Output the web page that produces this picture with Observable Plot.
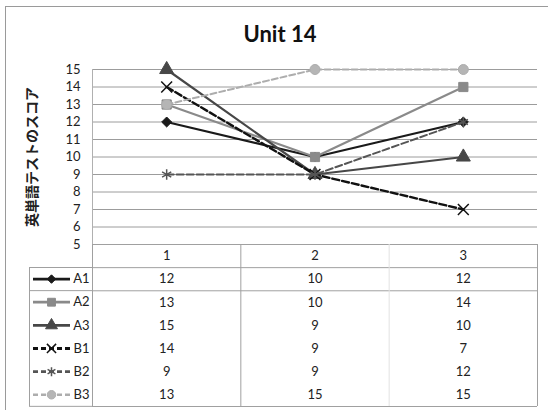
<!DOCTYPE html>
<html><head><meta charset="utf-8">
<script src="https://cdn.jsdelivr.net/npm/d3@7"></script>
<script src="https://cdn.jsdelivr.net/npm/@observablehq/plot@0.6"></script>
<style>
html,body{margin:0;padding:0;background:#fff;}
#wrap{position:relative;width:548px;height:410px;overflow:hidden;font-family:Lato,"Noto Sans",sans-serif;}
#border{position:absolute;left:5px;top:6px;width:600px;height:500px;border-left:1px solid #9a9a9a;border-top:1px solid #9a9a9a;}
#title{position:absolute;left:0;width:560px;top:20px;text-align:center;font-weight:bold;font-size:22px;color:#111;}
#wrap svg{position:absolute;background:none;overflow:visible;}
</style></head>
<body><div id="wrap"><div id="border"></div><div id="title">Unit 14</div></div>
<script>
// ---- data ----
const categories = [1, 2, 3];
const seriesNames = ["A1", "A2", "A3", "B1", "B2", "B3"];
const A1 = [12, 10, 12];
const A2 = [13, 10, 14];
const A3 = [15, 9, 10];
const B1 = [14, 9, 7];
const B2 = [9, 9, 12];
const B3 = [13, 15, 15];
const seriesValues = [A1, A2, A3, B1, B2, B3];
const yTicks = [5, 6, 7, 8, 9, 10, 11, 12, 13, 14, 15];
const titleText = "Unit 14";
const yLabel = "英単語テストのスコア";

// ---- styles ----
const styles = [
  {stroke: "#1a1a1a", width: 2.2, dash: null, symbol: "diamond2", fill: "#1a1a1a", r: 4.5},
  {stroke: "#8a8a8a", width: 2.2, dash: null, symbol: "square", fill: "#8a8a8a", r: 5.2},
  {stroke: "#474747", width: 2.2, dash: null, symbol: "triangle", fill: "#474747", r: 5.2},
  {stroke: "#111111", width: 2.4, dash: "7,3", symbol: "times", fill: "none", r: 5},
  {stroke: "#555555", width: 2.0, dash: "7,3", symbol: "asterisk", fill: "none", r: 5},
  {stroke: "#adadad", width: 2.0, dash: "6,3", symbol: "circle", fill: "#b5b5b5", r: 5}
];

const data = seriesNames.flatMap((s, i) => categories.map((c, j) => ({series: s, cat: c, value: seriesValues[i][j]})));

const W = 548, ML = 92, MR = 11;
const font = 'Lato, "Noto Sans", sans-serif';
const wrap = document.getElementById("wrap");
document.getElementById("title").textContent = titleText;

// ---- chart ----
const marks = [
  Plot.gridY(yTicks, {stroke: "#9c9c9c", strokeOpacity: 1}),
  Plot.ruleX([0.5], {stroke: "#b0b0b0"}),
  Plot.axisY(yTicks, {tickSize: 0, tickPadding: 12, fontSize: 13, label: null, fill: "#222"}),
  Plot.text([yLabel], {frameAnchor: "left", dx: -60, rotate: -90, textAnchor: "middle", fontSize: 14, fontWeight: "bold", fontFamily: '"Noto Sans CJK JP", sans-serif', fill: "#222"})
];
seriesNames.forEach((s, i) => {
  const st = styles[i];
  const d = data.filter(r => r.series === s);
  marks.push(Plot.line(d, {x: "cat", y: "value", stroke: st.stroke, strokeWidth: st.width, strokeDasharray: st.dash}));
  marks.push(Plot.dot(d, {x: "cat", y: "value", symbol: () => st.symbol, r: st.r, fill: st.fill, stroke: st.stroke, strokeWidth: st.fill === "none" ? 1.5 : 1}));
});
const chart = Plot.plot({
  width: W, height: 250, marginTop: 69, marginBottom: 6, marginLeft: ML, marginRight: MR,
  style: {fontFamily: font, background: "none", overflow: "visible"},
  x: {domain: [0.5, 3.5], axis: null},
  y: {domain: [5, 15], axis: null},
  symbol: {type: "identity"},
  marks
});
chart.style.left = "0px"; chart.style.top = "0px";
wrap.appendChild(chart);

// ---- data table ----
const tableTop = 244, tableH = 162, rowH = tableH / 7;
const cells = [
  ...categories.map(c => ({cat: c, row: 0, text: String(c)})),
  ...data.map(d => ({cat: d.cat, row: seriesNames.indexOf(d.series) + 1, text: String(d.value)}))
];
const table = Plot.plot({
  width: W, height: tableH + 2, marginTop: 1, marginBottom: 1, marginLeft: ML, marginRight: MR,
  style: {fontFamily: font, background: "none", overflow: "visible"},
  x: {domain: [0.5, 3.5], axis: null},
  y: {domain: [0, 7], reverse: true, axis: null},
  marks: [
    Plot.ruleY([0, 1, 2, 7], {stroke: "#a0a0a0"}),
    Plot.ruleX([0.5, 1.5, 3.5], {stroke: "#a0a0a0"}),
    Plot.ruleX([2.5], {stroke: "#e2e2e2"}),
    Plot.text(cells, {x: "cat", y: d => d.row + 0.5, text: "text", fontSize: 13, fill: "#222"})
  ]
});
table.style.left = "0px"; table.style.top = (tableTop - 1) + "px";
wrap.appendChild(table);

// ---- legend keys (left column of table) ----
const legLeft = 29, legW = ML - legLeft;
const legRows = seriesNames.map((s, i) => ({series: s, row: i, st: styles[i]}));
const legMarks = [
  Plot.frame({stroke: "#a0a0a0"}),
  Plot.ruleY([1], {stroke: "#a0a0a0"}),
  Plot.text(legRows, {y: d => d.row + 0.5, text: "series", frameAnchor: "right", dx: -3, textAnchor: "end", fontSize: 13, fill: "#222"})
];
legRows.forEach(d => {
  legMarks.push(Plot.ruleY([d.row + 0.5], {stroke: d.st.stroke, strokeWidth: d.st.width + 0.6, strokeDasharray: d.st.dash ? "5,3" : null, insetLeft: 4, insetRight: 22}));
  legMarks.push(Plot.dot([d], {y: d => d.row + 0.5, frameAnchor: "left", dx: 22, symbol: () => d.st.symbol, r: d.st.r * 0.85, fill: d.st.fill, stroke: d.st.stroke, strokeWidth: d.st.fill === "none" ? 1.5 : 1}));
});
const legend = Plot.plot({
  width: legW + 2, height: rowH * 6 + 2, margin: 1,
  style: {fontFamily: font, background: "none", overflow: "visible"},
  x: {axis: null},
  y: {domain: [0, 6], reverse: true, axis: null},
  symbol: {type: "identity"},
  marks: legMarks
});
legend.style.left = (legLeft - 1) + "px"; legend.style.top = (tableTop + rowH - 1) + "px";
wrap.appendChild(legend);
</script></body></html>
